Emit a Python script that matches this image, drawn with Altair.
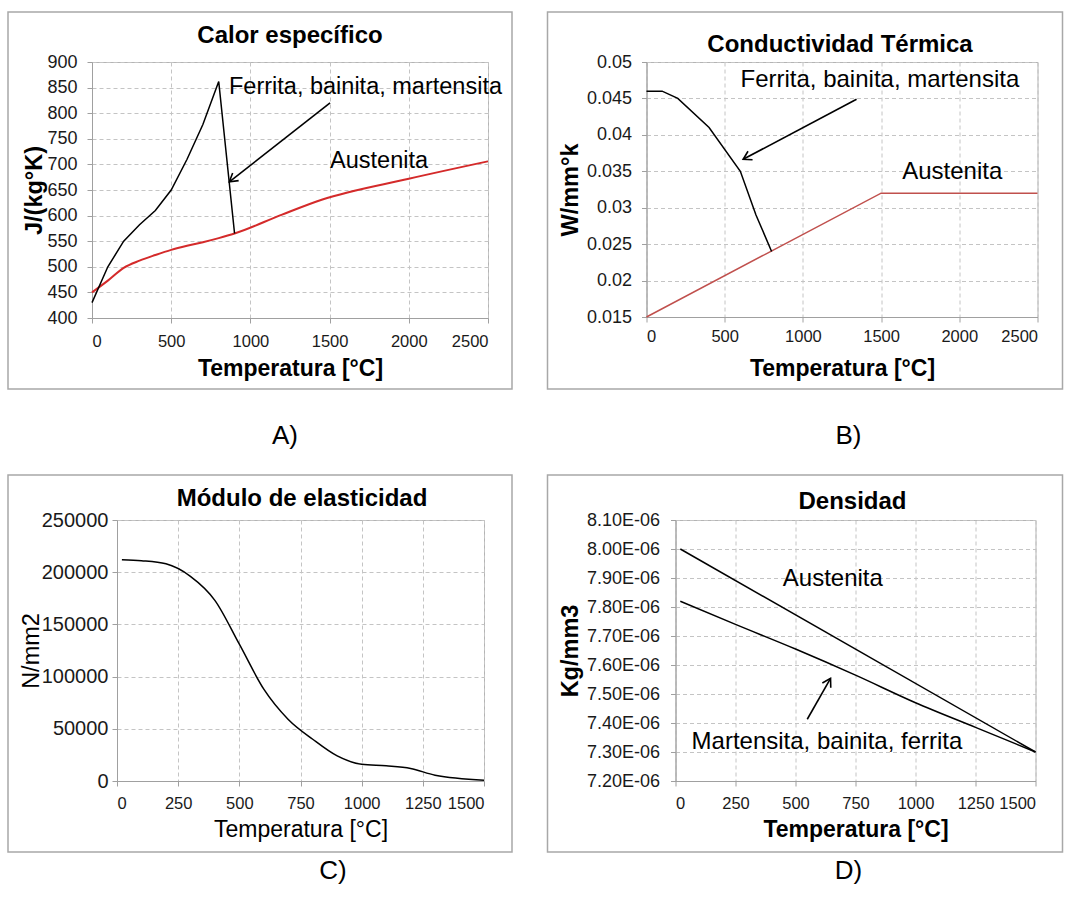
import altair as alt
import pandas as pd

FONT = "Liberation Sans"

# ---------------- data ----------------
panel_titles = ["Calor específico", "Conductividad Térmica", "Módulo de elasticidad", "Densidad"]
panel_letters = ["A)", "B)", "C)", "D)"]
x_title = "Temperatura [°C]"
y_titles = ["J/(kg°K)", "W/mm°k", "N/mm2", "Kg/mm3"]

# A) Calor específico
a_fbm_temp = [0, 100, 200, 300, 400, 500, 600, 700, 800, 900]
a_fbm_cp = [430, 500, 550, 582, 610, 650, 710, 778, 862, 565]
a_aus_temp = [0, 100, 200, 300, 400, 500, 600, 700, 800, 900, 1200, 1450, 2000, 2500]
a_aus_cp = [450, 473, 498, 512, 523, 533, 541, 548, 556, 565, 602, 631, 672, 706]
a_x_ticks = [0, 500, 1000, 1500, 2000, 2500]
a_y_ticks = [400, 450, 500, 550, 600, 650, 700, 750, 800, 850, 900]
a_note_text = ["Ferrita, bainita, martensita", "Austenita"]
a_note_temp = [865, 1503]
a_note_val = [838, 692]
a_arrow_temp = [1503, 867]
a_arrow_val = [820, 666]

# B) Conductividad térmica
b_fbm_temp = [0, 100, 200, 400, 600, 700, 800]
b_fbm_k = [0.046, 0.046, 0.045, 0.041, 0.035, 0.029, 0.024]
b_aus_temp = [0, 1500, 2500]
b_aus_k = [0.015, 0.032, 0.032]
b_x_ticks = [0, 500, 1000, 1500, 2000, 2500]
b_y_ticks = [0.015, 0.02, 0.025, 0.03, 0.035, 0.04, 0.045, 0.05]
b_note_text = ["Ferrita, bainita, martensita", "Austenita"]
b_note_temp = [601, 1635]
b_note_val = [0.04657, 0.0339]
b_arrow_temp = [1343, 618]
b_arrow_val = [0.04488, 0.03665]

# C) Módulo de elasticidad
c_temp = [20, 100, 200, 300, 400, 500, 600, 700, 800, 900, 1000, 1100, 1200, 1300, 1500]
c_e = [212000, 211000, 208000, 196000, 173000, 131000, 88000, 59000, 40000, 24000,
       16000, 14500, 12000, 5500, 800]
c_x_ticks = [0, 250, 500, 750, 1000, 1250, 1500]
c_y_ticks = [0, 50000, 100000, 150000, 200000, 250000]

# D) Densidad
d_aus_temp = [20, 1500]
d_aus_rho = [8.00e-6, 7.30e-6]
d_mbf_temp = [20, 250, 500, 750, 1000, 1250, 1500]
d_mbf_rho = [7.82e-6, 7.74e-6, 7.655e-6, 7.565e-6, 7.47e-6, 7.385e-6, 7.30e-6]
d_x_ticks = [0, 250, 500, 750, 1000, 1250, 1500]
d_y_ticks = [7.2e-6, 7.3e-6, 7.4e-6, 7.5e-6, 7.6e-6, 7.7e-6, 7.8e-6, 7.9e-6, 8.0e-6, 8.1e-6]
d_note_text = ["Austenita", "Martensita, bainita, ferrita"]
d_note_temp = [447, 67]
d_note_val = [7.8725e-6, 7.309e-6]
d_arrow_temp = [549, 646]
d_arrow_val = [7.413e-6, 7.554e-6]

ARROW_HEAD = "M-0.6,1L0,0L0.6,1"
BORDER = "#a8a8a8"


def encodings(w, h, xdom, xticks, ydom, yticks, ytitle, bold, x_lpad, y_lpad,
              x_tY, y_tX, y_lsize=18, x_lsize=16.5, yfmt="d", yexpr=""):
    weight = "bold" if bold else "normal"
    x = alt.X("t:Q", scale=alt.Scale(domain=xdom, nice=False, zero=False),
              axis=alt.Axis(values=xticks, format="d", title=x_title, labelPadding=x_lpad,
                            labelFontSize=x_lsize, titleX=w / 2, titleY=x_tY,
                            titleBaseline="alphabetic", titleAlign="center",
                            titleFontWeight=weight, titleFontSize=23))
    ykw = dict(values=yticks, title=ytitle, labelPadding=y_lpad, labelFontSize=y_lsize,
               titleX=y_tX, titleY=h / 2, titleAngle=270, titleBaseline="middle",
               titleAlign="center", titleFontWeight=weight, titleFontSize=23.5)
    if yexpr:
        ykw["labelExpr"] = yexpr
    else:
        ykw["format"] = yfmt
    y = alt.Y("v:Q", scale=alt.Scale(domain=ydom, nice=False, zero=False), axis=alt.Axis(**ykw))
    return x, y


def frame_layers(idx, border, letter_pos, title_pos):
    df = pd.DataFrame({"letter": [panel_letters[idx]], "title": [panel_titles[idx]]})
    bx1, bx2, by1, by2 = border
    rect = alt.Chart(df).mark_rect(filled=False, color=BORDER, strokeWidth=1.5).encode(
        x=alt.value(bx1), x2=alt.value(bx2), y=alt.value(by1), y2=alt.value(by2))
    letter = alt.Chart(df).mark_text(font=FONT, fontSize=26, color="black",
                                     align="center", baseline="middle").encode(
        x=alt.value(letter_pos[0]), y=alt.value(letter_pos[1]), text="letter:N")
    title = alt.Chart(df).mark_text(font=FONT, fontSize=24, fontWeight="bold", color="black",
                                    align="center", baseline="alphabetic").encode(
        x=alt.value(title_pos[0]), y=alt.value(title_pos[1]), text="title:N")
    return [rect, letter, title]


def line(temps, vals, x, y, color, width=1.5, interp="linear"):
    df = pd.DataFrame({"t": temps, "v": vals})
    return alt.Chart(df).mark_line(color=color, strokeWidth=width, interpolate=interp).encode(x=x, y=y)


def notes(texts, temps, vals, x, y, size=24):
    df = pd.DataFrame({"t": temps, "v": vals, "label": texts})
    return alt.Chart(df).mark_text(font=FONT, fontSize=size, color="black", align="left",
                                   baseline="alphabetic").encode(x=x, y=y, text="label:N")


def arrow(temps, vals, x, y, angle):
    df = pd.DataFrame({"t": temps, "v": vals})
    shaft = alt.Chart(df).mark_line(color="black", strokeWidth=1.6).encode(x=x, y=y)
    head_df = pd.DataFrame({"t": temps[-1:], "v": vals[-1:]})
    head = alt.Chart(head_df).mark_point(shape=ARROW_HEAD, angle=angle, filled=False, size=260,
                                         strokeWidth=1.6, color="black", opacity=1).encode(x=x, y=y)
    return [shaft, head]


def spacer():
    return alt.Chart(pd.DataFrame({"s": [0]})).mark_point(opacity=0, size=1).encode(
        x=alt.value(0), y=alt.value(0)
    ).properties(width=1, height=1, view=alt.ViewBackground(stroke="transparent"))


# ---- Panel A ----
wA, hA = 396, 256
xA, yA = encodings(wA, hA, [0, 2500], a_x_ticks, [400, 900], a_y_ticks, y_titles[0], True,
                   x_lpad=10, y_lpad=10, x_tY=57, y_tX=-58)
panelA = alt.layer(
    *frame_layers(0, (-84, 420, -50, 327), (193, 374), (198, -19)),
    line(a_aus_temp, a_aus_cp, xA, yA, "#d42a2a", 2, "monotone"),
    line(a_fbm_temp, a_fbm_cp, xA, yA, "black", 1.5),
    *arrow(a_arrow_temp, a_arrow_val, xA, yA, 231.6),
    notes(a_note_text, a_note_temp, a_note_val, xA, yA, 23.5),
).properties(width=wA, height=hA)

# ---- Panel B ----
wB, hB = 391, 255
xB, yB = encodings(wB, hB, [0, 2500], b_x_ticks, [0.015, 0.05], b_y_ticks, y_titles[1], True,
                   x_lpad=6, y_lpad=10, x_tY=58, y_tX=-76, yfmt="~g")
panelB = alt.layer(
    *frame_layers(1, (-99, 416, -50, 327), (202, 374), (193.5, -10)),
    line(b_aus_temp, b_aus_k, xB, yB, "#c0504d", 1.5),
    line(b_fbm_temp, b_fbm_k, xB, yB, "black", 1.5),
    *arrow(b_arrow_temp, b_arrow_val, xB, yB, 242.1),
    notes(b_note_text, b_note_temp, b_note_val, xB, yB, 24),
).properties(width=wB, height=hB)

# ---- Panel C ----
wC, hC = 367, 261
xC, yC = encodings(wC, hC, [0, 1500], c_x_ticks, [0, 250000], c_y_ticks, y_titles[2], False,
                   x_lpad=9, y_lpad=4, x_tY=55, y_tX=-86, y_lsize=20)
panelC = alt.layer(
    *frame_layers(2, (-109, 395, -45, 332), (216, 351), (185, -14)),
    line(c_temp, c_e, xC, yC, "black", 1.5, "monotone"),
).properties(width=wC, height=hC)

# ---- Panel D ----
wD, hD = 360, 261
xD, yD = encodings(wD, hD, [0, 1500], d_x_ticks, [7.2e-6, 8.1e-6], d_y_ticks, y_titles[3], True,
                   x_lpad=9, y_lpad=11, x_tY=55, y_tX=-105,
                   yexpr="format(datum.value * 1000000, '.2f') + 'E-06'")
panelD = alt.layer(
    *frame_layers(3, (-128, 387, -45, 332), (173, 351), (177, -11)),
    line(d_aus_temp, d_aus_rho, xD, yD, "black", 1.5),
    line(d_mbf_temp, d_mbf_rho, xD, yD, "black", 1.5, "monotone"),
    *arrow(d_arrow_temp, d_arrow_val, xD, yD, 29.6),
    notes(d_note_text, d_note_temp, d_note_val, xD, yD, 24),
).properties(width=wD, height=hD)

row1 = alt.hconcat(spacer(), alt.hconcat(panelA, panelB, spacing=31.5), spacing=0)
row2 = alt.hconcat(spacer(), alt.hconcat(panelC, panelD, spacing=31.5), spacing=0)

chart = alt.vconcat(row1, row2, spacing=23).properties(
    padding={"left": 3, "top": 10, "right": 0, "bottom": 0},
    background="white",
).configure_view(
    stroke="#b4b4b4", strokeWidth=1
).configure_axis(
    labelFont=FONT, titleFont=FONT, labelColor="#1a1a1a", titleColor="black",
    domainColor="#a0a0a0", tickColor="#a0a0a0", tickSize=5,
    gridColor="#c4c4c4", gridDash=[4, 3], gridWidth=1,
)

chart.save("out.html", embed_options={"renderer": "svg", "actions": False})
